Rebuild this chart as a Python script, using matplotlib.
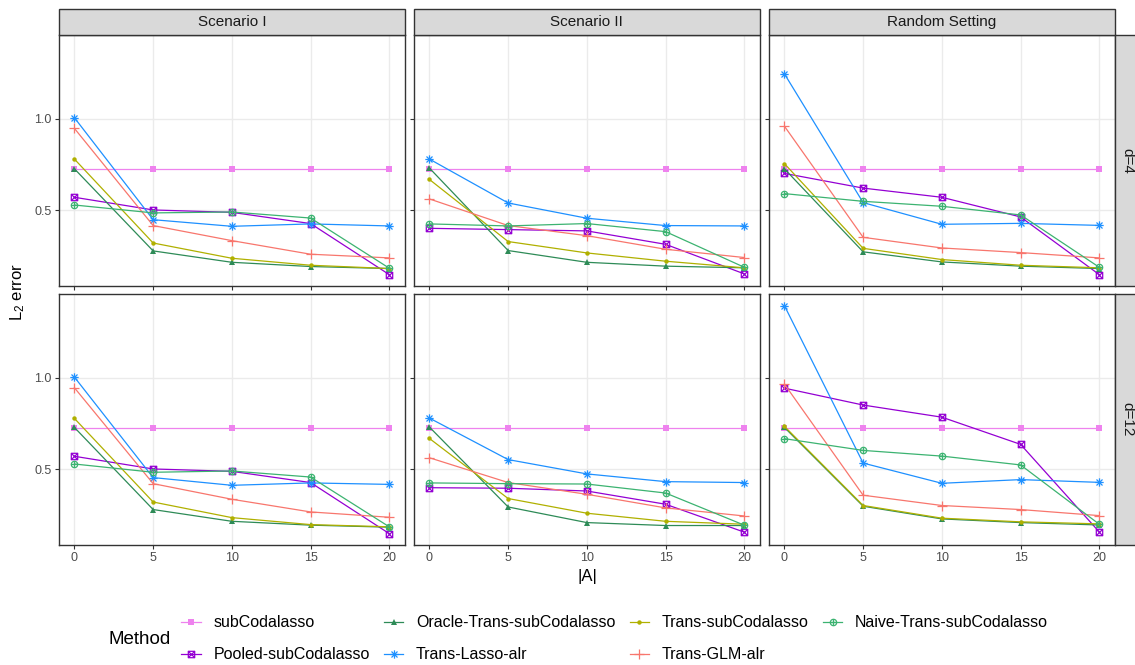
import numpy as np
import matplotlib
matplotlib.use("Agg")
import matplotlib.pyplot as plt
from matplotlib.path import Path
from matplotlib.patches import Rectangle

plt.rcParams['font.family'] = ['Liberation Sans', 'DejaVu Sans']
plt.rcParams['mathtext.default'] = 'regular'

# ---------------- datos ----------------
sizes = [0, 5, 10, 15, 20]
methods = ['subCodalasso', 'Pooled-subCodalasso', 'Oracle-Trans-subCodalasso',
           'Trans-Lasso-alr', 'Trans-subCodalasso', 'Trans-GLM-alr',
           'Naive-Trans-subCodalasso']
scenarios = ['Scenario I', 'Scenario II', 'Random Setting']
dims = ['d=4', 'd=12']

# filas en el orden de methods
s1_d4 = [[0.726, 0.726, 0.726, 0.726, 0.726],
         [0.571, 0.502, 0.489, 0.428, 0.150],
         [0.726, 0.279, 0.217, 0.194, 0.183],
         [1.004, 0.449, 0.413, 0.426, 0.415],
         [0.779, 0.322, 0.239, 0.201, 0.183],
         [0.946, 0.417, 0.335, 0.261, 0.241],
         [0.529, 0.486, 0.491, 0.458, 0.185]]
s2_d4 = [[0.726, 0.726, 0.726, 0.726, 0.726],
         [0.402, 0.395, 0.388, 0.315, 0.154],
         [0.730, 0.281, 0.217, 0.196, 0.187],
         [0.779, 0.540, 0.457, 0.417, 0.415],
         [0.668, 0.330, 0.268, 0.223, 0.187],
         [0.562, 0.417, 0.362, 0.288, 0.243],
         [0.426, 0.415, 0.428, 0.384, 0.190]]
rnd_d4 = [[0.726, 0.726, 0.726, 0.726, 0.726],
          [0.701, 0.621, 0.571, 0.464, 0.150],
          [0.726, 0.274, 0.219, 0.196, 0.183],
          [1.243, 0.542, 0.424, 0.429, 0.418],
          [0.754, 0.293, 0.232, 0.201, 0.187],
          [0.958, 0.353, 0.295, 0.270, 0.241],
          [0.591, 0.549, 0.522, 0.475, 0.190]]
s1_d12 = [[0.726, 0.726, 0.726, 0.726, 0.726],
          [0.571, 0.502, 0.489, 0.428, 0.150],
          [0.728, 0.281, 0.217, 0.196, 0.185],
          [1.002, 0.455, 0.413, 0.426, 0.418],
          [0.777, 0.322, 0.237, 0.199, 0.187],
          [0.944, 0.422, 0.337, 0.268, 0.239],
          [0.529, 0.484, 0.491, 0.458, 0.187]]
s2_d12 = [[0.726, 0.726, 0.726, 0.726, 0.726],
          [0.400, 0.397, 0.382, 0.310, 0.158],
          [0.730, 0.295, 0.210, 0.194, 0.194],
          [0.779, 0.553, 0.475, 0.433, 0.428],
          [0.668, 0.341, 0.261, 0.217, 0.201],
          [0.563, 0.428, 0.364, 0.290, 0.246],
          [0.426, 0.422, 0.420, 0.371, 0.196]]
rnd_d12 = [[0.726, 0.726, 0.726, 0.726, 0.726],
           [0.942, 0.850, 0.784, 0.636, 0.159],
           [0.728, 0.299, 0.230, 0.210, 0.197],
           [1.391, 0.534, 0.424, 0.444, 0.429],
           [0.734, 0.303, 0.234, 0.214, 0.203],
           [0.964, 0.359, 0.303, 0.281, 0.248],
           [0.667, 0.603, 0.572, 0.524, 0.201]]

panels = [[s1_d4, s2_d4, rnd_d4], [s1_d12, s2_d12, rnd_d12]]

# ---------------- estilos ----------------
colors = ['#EE82EE', '#9400D3', '#2E8B57', '#1E90FF', '#B0B000', '#F8766D', '#3CB371']

circ = Path.unit_circle()
plus = Path([(-1, 0), (1, 0), (0, -1), (0, 1)],
            [Path.MOVETO, Path.LINETO, Path.MOVETO, Path.LINETO])
circ_plus = Path.make_compound_path(circ, plus)
sq = Path([(-1, -1), (1, -1), (1, 1), (-1, 1), (-1, -1)],
          [Path.MOVETO, Path.LINETO, Path.LINETO, Path.LINETO, Path.CLOSEPOLY])
xx = Path([(-1, -1), (1, 1), (-1, 1), (1, -1)],
          [Path.MOVETO, Path.LINETO, Path.MOVETO, Path.LINETO])
sq_x = Path.make_compound_path(sq, xx)
d = 0.72
aster = Path([(-1, 0), (1, 0), (0, -1), (0, 1), (-d, -d), (d, d), (-d, d), (d, -d)],
             [Path.MOVETO, Path.LINETO] * 4)

styles = [dict(marker='s', ms=4.5, mfc=None, mew=0),
          dict(marker=sq_x, ms=4.6, mfc='none', mew=0.9),
          dict(marker='^', ms=4.5, mfc=None, mew=0),
          dict(marker=aster, ms=6.0, mfc='none', mew=0.9),
          dict(marker='o', ms=3.2, mfc=None, mew=0),
          dict(marker='+', ms=6.5, mfc='none', mew=0.9),
          dict(marker=circ_plus, ms=4.6, mfc='none', mew=0.9)]

W, H = 1135, 665
fig = plt.figure(figsize=(W / 100, H / 100), dpi=100)

col_x = [58.7, 413.7, 768.7]
pw = 346.3
row_top = [35.3, 294.3]
ph = 250.7
edge = '#333333'

allv = np.array(panels).ravel()
rng = allv.max() - allv.min()
ylim = (allv.min() - 0.05 * rng, allv.max() + 0.05 * rng)

handles = []
for r in range(2):
    for c in range(3):
        ax = fig.add_axes([col_x[c] / W, 1 - (row_top[r] + ph) / H, pw / W, ph / H])
        vals = panels[r][c]
        for k in range(len(methods)):
            st = styles[k]
            kw = dict(color=colors[k], lw=0.9, marker=st['marker'], ms=st['ms'],
                      mew=st['mew'], mec=colors[k], label=methods[k])
            if st['mfc'] == 'none':
                kw['mfc'] = 'none'
            ln, = ax.plot(sizes, vals[k], **kw)
            if r == 0 and c == 0:
                handles.append(ln)
        ax.set_xlim(-1, 21)
        ax.set_ylim(*ylim)
        ax.set_xticks(sizes)
        ax.set_yticks([0.5, 1.0])
        ax.grid(True, color='#EBEBEB', lw=1.0)
        ax.set_axisbelow(True)
        for s in ax.spines.values():
            s.set_color(edge)
            s.set_linewidth(1.0)
        ax.tick_params(length=3, width=0.8, color=edge, labelcolor='#4D4D4D',
                       labelsize=9, pad=2)
        if c == 0:
            ax.set_yticklabels(['0.5', '1.0'])
        else:
            ax.set_yticklabels([])
        if r == 0:
            ax.set_xticklabels([])
        # tira superior
        if r == 0:
            fig.patches.append(Rectangle((col_x[c] / W, 1 - row_top[0] / H),
                                         pw / W, 26.6 / H, transform=fig.transFigure,
                                         facecolor='#D9D9D9', edgecolor=edge, lw=1.0))
            fig.text((col_x[c] + pw / 2) / W, 1 - (row_top[0] - 13.3) / H, scenarios[c],
                     ha='center', va='center', fontsize=11, color='#1A1A1A')
        if c == 2:
            fig.patches.append(Rectangle(((col_x[2] + pw) / W, 1 - (row_top[r] + ph) / H),
                                         26 / W, ph / H, transform=fig.transFigure,
                                         facecolor='#D9D9D9', edgecolor=edge, lw=1.0))
            fig.text((col_x[2] + pw + 12) / W, 1 - (row_top[r] + ph / 2) / H, dims[r],
                     ha='center', va='center', rotation=-90, fontsize=11,
                     color='#1A1A1A')

fig.text(587 / W, 1 - 577 / H, '|A|', ha='center', va='center', fontsize=12)
fig.text(18 / W, 1 - 292 / H, 'L$_2$ error', ha='center', va='center',
         rotation=90, fontsize=12)

fig.text(108 / W, 1 - 639 / H, 'Method', ha='left', va='center', fontsize=13.5)
fig.legend(handles=handles, ncol=4, loc='upper left',
           bbox_to_anchor=(175 / W, 1 - 609 / H), frameon=False, fontsize=11.5,
           handlelength=1.2, handletextpad=0.8, columnspacing=0.9,
           labelspacing=1.05, borderaxespad=0)

fig.savefig('out.png', dpi=100)
